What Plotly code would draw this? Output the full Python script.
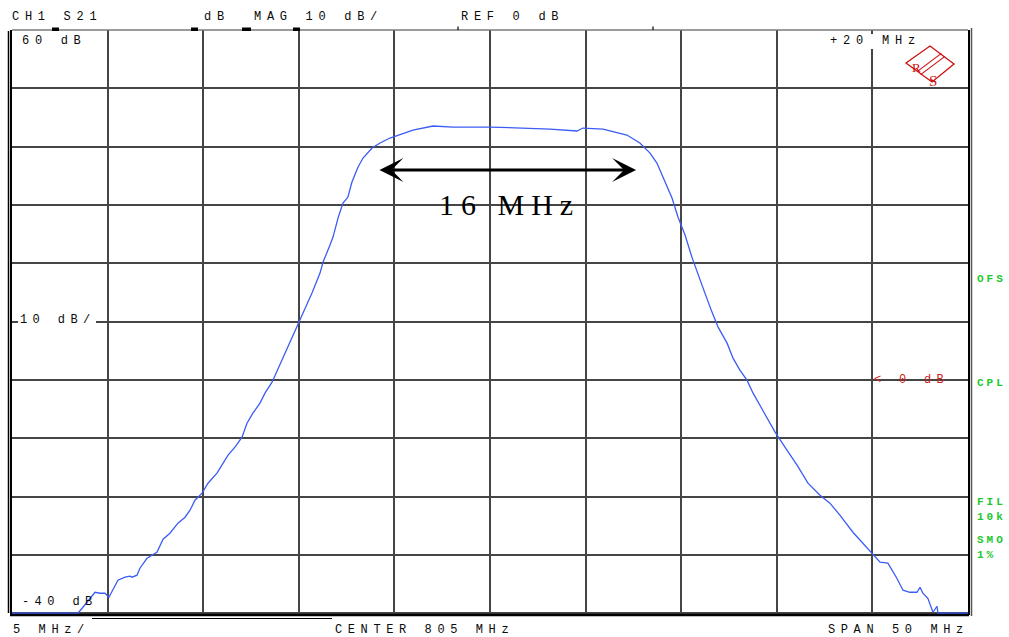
import json
import plotly.graph_objects as go

# ---------------- data ----------------
freq_mhz = [780.00, 783.45, 783.92, 784.34, 784.60, 784.86, 785.07, 785.28, 785.54, 785.91,
            786.17, 786.28, 786.54, 786.69, 787.06, 787.32, 787.58, 787.90, 788.26, 788.68,
            789.05, 789.31, 789.57, 789.94, 790.25, 790.72, 791.30, 791.66, 792.03, 792.29,
            792.60, 792.97, 793.23, 793.60, 794.64, 795.06, 795.32, 795.69, 796.11, 796.27,
            796.63, 796.79, 797.05, 797.31, 797.57, 797.78, 798.10, 798.36, 798.83, 799.25,
            799.77, 800.19, 800.97, 802.02, 803.06, 805.00, 806.93, 808.14, 809.55, 809.86,
            810.91, 812.16, 812.84, 813.37, 813.73, 814.05, 814.52, 814.83, 815.20, 815.56,
            815.88, 816.24, 816.61, 816.93, 817.40, 817.71, 818.07, 818.44, 818.76, 819.28,
            819.91, 820.53, 821.06, 821.63, 822.26, 822.78, 823.30, 823.98, 824.51, 824.98,
            825.40, 825.81, 826.28, 826.60, 826.96, 827.33, 827.49, 827.64, 827.90, 828.17,
            828.38, 828.43, 830.00]
s21_db = [-40.00, -40.00, -38.11, -36.40, -36.57, -36.57, -37.26, -36.05, -34.34, -33.82,
          -33.65, -33.82, -33.48, -32.28, -30.57, -30.05, -29.54, -27.31, -26.28, -24.56,
          -23.53, -22.33, -20.62, -19.42, -17.70, -15.99, -12.90, -11.53, -9.81, -7.41,
          -5.70, -3.98, -2.27, -0.38, 7.17, 10.26, 11.97, 14.89, 18.32, 20.21,
          23.12, 24.50, 27.75, 30.33, 31.36, 33.93, 36.50, 38.05, 39.76, 40.62,
          41.48, 41.99, 42.85, 43.54, 43.36, 43.36, 43.19, 43.02, 42.68, 43.19,
          43.02, 41.99, 40.62, 38.90, 37.19, 34.79, 31.19, 27.93, 24.84, 21.06,
          18.32, 14.89, 11.63, 9.06, 6.31, 3.74, 1.69, -0.03, -2.27, -5.18,
          -8.95, -12.04, -14.61, -17.70, -19.76, -21.13, -23.19, -26.11, -27.99, -29.71,
          -31.25, -31.42, -34.00, -36.05, -36.40, -36.40, -35.54, -36.57, -37.43, -39.83,
          -38.80, -40.00, -40.00]

x_grid_mhz = [780, 785, 790, 795, 800, 805, 810, 815, 820, 825, 830]
y_grid_db = [-40, -30, -20, -10, 0, 10, 20, 30, 40, 50, 60]

bandwidth_arrow_mhz = [799.14, 812.64]
bandwidth_arrow_db = 36.0
bandwidth_label = "16 MHz"

header_labels = ["CH1 S21", "dB", "MAG 10 dB/", "REF 0 dB"]
scale_labels = ["60 dB", "10 dB/", "-40 dB"]
span_top_label = "+20 MHz"
footer_labels = ["5 MHz/", "CENTER 805 MHz", "SPAN 50 MHz"]
ref_marker_label = "< 0 dB"
side_labels = ["OFS", "CPL", "FIL", "10k", "SMO", "1%"]

# ---------------- layout helpers (pixel -> paper) ----------------
W, H = 1009, 637
L, R, T, B = 12, 968, 30, 615


def px(x):
    return (x - L) / (R - L)


def py(y):
    return (B - y) / (B - T)


MONO = "Liberation Mono"
GRAY_TXT = "#0a0a0a"
GREEN = "#22c830"
RED = "#d02020"

fig = go.Figure()
fig.add_trace(go.Scatter(x=freq_mhz, y=s21_db, mode="lines",
                         line=dict(color="#3c5cf5", width=1.3), hoverinfo="skip"))

annotations = []
spacing = {}


def label(text, x, y, size=12, color=GRAY_TXT, family=MONO, ls=5.7, bold=False):
    annotations.append(dict(text=text, x=px(x), y=py(y), xref="paper", yref="paper",
                            xanchor="left", yanchor="middle", align="left",
                            showarrow=False, borderpad=0,
                            font=dict(family=family, size=size, color=color,
                                      weight="bold" if bold else "normal")))
    spacing[text] = ls


# header
for t, x in zip(header_labels, [11, 203, 253, 460]):
    label(t, x, 17)
# scale labels
label(scale_labels[0], 21, 41)
label(scale_labels[1], 19, 320, ls=5.4)
label(scale_labels[2], 21, 602, ls=5.4)
label(span_top_label, 829, 41, ls=5.8)
# footer
for t, x in zip(footer_labels, [12, 334, 827]):
    label(t, x, 630, ls=5.6)
# reference marker
label(ref_marker_label, 873, 380, color=RED, ls=5.3)
# side labels
for t, y in zip(side_labels, [279, 383, 502, 517, 540, 555]):
    label(t, 976, y, size=11, color=GREEN, ls=3.0, bold=True)
# bandwidth label
label(bandwidth_label, 438, 204, size=30, color="black", family="Liberation Serif", ls=7.0)

# R&S logo letters
annotations.append(dict(text="R", x=px(923), y=py(58), xref="paper", yref="paper",
                        showarrow=False, font=dict(family="Liberation Serif", size=13, color="#cc1010")))
annotations.append(dict(text="S", x=px(939), y=py(71), xref="paper", yref="paper",
                        showarrow=False, font=dict(family="Liberation Serif", size=15, color="#cc1010")))

# bandwidth double arrow
annotations.append(dict(x=bandwidth_arrow_mhz[1], y=bandwidth_arrow_db,
                        ax=bandwidth_arrow_mhz[0], ay=bandwidth_arrow_db,
                        xref="x", yref="y", axref="x", ayref="y", text="",
                        showarrow=True, arrowside="end+start",
                        arrowhead=3, startarrowhead=3, arrowwidth=3.2,
                        arrowsize=1.25, startarrowsize=1.25, arrowcolor="black"))

shapes = []
# white patches behind labels that hide grid lines
shapes.append(dict(type="rect", xref="paper", yref="paper", x0=px(18), x1=px(96),
                   y0=py(327), y1=py(314), fillcolor="white", line=dict(width=0), layer="above"))
shapes.append(dict(type="rect", xref="paper", yref="paper", x0=px(826), x1=px(922),
                   y0=py(49), y1=py(34), fillcolor="white", line=dict(width=0), layer="above"))
# frame lines
shapes.append(dict(type="line", xref="paper", yref="paper", x0=0, x1=1, y0=1, y1=1,
                   line=dict(color="#7a7a7a", width=1.5)))
shapes.append(dict(type="line", xref="paper", yref="paper", x0=px(10), x1=px(969), y0=0, y1=0,
                   line=dict(color="black", width=2.6)))
shapes.append(dict(type="line", xref="paper", yref="paper", x0=px(8.5), x1=px(8.5),
                   y0=py(613), y1=py(31), line=dict(color="black", width=1.5)))
shapes.append(dict(type="line", xref="paper", yref="paper", x0=px(971.5), x1=px(971.5),
                   y0=py(616), y1=py(28), line=dict(color="#555", width=1.5)))
shapes.append(dict(type="line", xref="paper", yref="paper", x0=px(92), x1=px(332),
                   y0=py(618.5), y1=py(618.5), line=dict(color="black", width=1.2)))
# small marks on the top frame
for x0, x1 in [(52, 59), (191, 198), (242, 251), (293, 300)]:
    shapes.append(dict(type="rect", xref="paper", yref="paper", x0=px(x0), x1=px(x1),
                       y0=py(31), y1=py(27.5), fillcolor="black", line=dict(width=0)))
for x in [458, 653]:
    shapes.append(dict(type="line", xref="paper", yref="paper", x0=px(x), x1=px(x),
                       y0=py(30), y1=py(26.5), line=dict(color="black", width=1.2)))
# R&S logo diamond and stripes
pts = [(930, 46), (954, 64), (932, 82), (906, 63)]
path = "M " + " L ".join(f"{px(a):.5f},{py(b):.5f}" for a, b in pts) + " Z"
shapes.append(dict(type="path", xref="paper", yref="paper", path=path,
                   line=dict(color="#cc1010", width=1.3), fillcolor="rgba(0,0,0,0)"))
for d in (-1.6, 1.6):
    shapes.append(dict(type="line", xref="paper", yref="paper",
                       x0=px(943 + d), y0=py(55 + d), x1=px(919 + d), y1=py(73 + d),
                       line=dict(color="#cc1010", width=1.1)))

fig.update_layout(
    width=W, height=H,
    margin=dict(l=L, r=W - R, t=T, b=H - B, pad=0),
    paper_bgcolor="white", plot_bgcolor="white", showlegend=False,
    xaxis=dict(range=[780, 830], tickvals=x_grid_mhz, showticklabels=False, ticks="",
               showgrid=True, gridcolor="#454545", gridwidth=1.5, zeroline=False,
               showline=False, fixedrange=True),
    yaxis=dict(range=[-40.3, 60], tickvals=y_grid_db, showticklabels=False, ticks="",
               showgrid=True, gridcolor="#454545", gridwidth=1.5, zeroline=False,
               showline=True, mirror=True, linecolor="black", linewidth=2, fixedrange=True),
    annotations=annotations,
    shapes=shapes,
)

post = """
(function(){
  var gd = document.getElementById('{plot_id}');
  var sp = __SP__;
  function apply(){
    var nodes = gd.querySelectorAll('.annotation-text');
    nodes.forEach(function(t){
      var s = t.textContent;
      if (Object.prototype.hasOwnProperty.call(sp, s)) { t.style.letterSpacing = sp[s] + 'px'; }
    });
  }
  apply();
  if (gd.on) { gd.on('plotly_afterplot', apply); }
})();
""".replace("__SP__", json.dumps(spacing))

fig.write_html("out.html", post_script=post, config={"displayModeBar": False})
